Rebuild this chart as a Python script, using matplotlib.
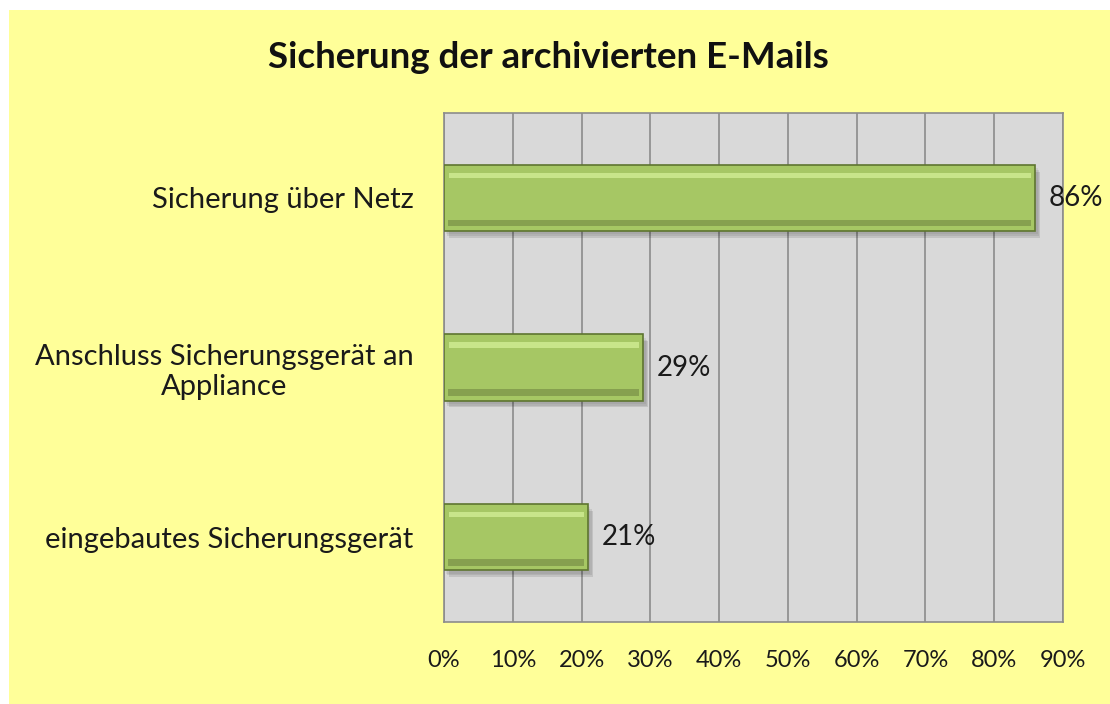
import matplotlib.pyplot as plt
from matplotlib.patches import Rectangle
import numpy as np

plt.rcParams['font.family'] = ['Lato', 'DejaVu Sans']

# Data
categories = ["Sicherung über Netz",
              "Anschluss Sicherungsgerät an\nAppliance",
              "eingebautes Sicherungsgerät"]
values = [86, 29, 21]
xticks = [0, 10, 20, 30, 40, 50, 60, 70, 80, 90]
title = "Sicherung der archivierten E-Mails"

fig = plt.figure(figsize=(11.1, 7.04), dpi=100)
fig.patch.set_facecolor('white')

# yellow chart area
bg = Rectangle((9 / 1110, 0), 1 - 9 / 1110, 1 - 10 / 704,
               transform=fig.transFigure, facecolor='#FFFF99',
               edgecolor='none', zorder=-10)
fig.add_artist(bg)

ax = fig.add_axes([444 / 1110, 1 - 622 / 704, 619 / 1110, 509 / 704])
ax.set_zorder(5)
ax.set_facecolor('#D9D9D9')

y = np.arange(len(categories))[::-1]
h = 0.39

# shadow (soft)
for k, a in enumerate([0.06, 0.08, 0.10]):
    ax.barh(y - 0.02 - 0.01 * k, values, height=h, left=0.3 + 0.2 * k,
            color='#000000', alpha=a, zorder=2, linewidth=0)
# main bar
ax.barh(y, values, height=h, color='#A6C764', edgecolor='#5E7530',
        linewidth=1.2, zorder=3)
# bevel highlight / shade
ax.barh(y + h * 0.34, np.array(values) - 1.4, height=h * 0.08, left=0.7,
        color='#C8E58A', linewidth=0, zorder=4)
ax.barh(y - h * 0.38, np.array(values) - 1.2, height=h * 0.1, left=0.6,
        color='#86A04F', linewidth=0, zorder=4)

for yi, v in zip(y, values):
    ax.text(v + 1.9, yi, f"{v}%", va='center', ha='left', fontsize=20,
            color='#1a1a1a', zorder=5, clip_on=False)

ax.set_xlim(0, 90)
ax.set_ylim(-0.5, 2.5)
ax.set_xticks(xticks)
ax.set_xticklabels([f"{t}%" for t in xticks], fontsize=17, color='#1a1a1a')
ax.set_yticks(y)
ax.set_yticklabels(categories, fontsize=21, color='#1a1a1a',
                   multialignment='center')
ax.tick_params(axis='both', length=0)
ax.tick_params(axis='x', pad=20)
ax.tick_params(axis='y', pad=22)
ax.xaxis.grid(True, color='#8C8C8C', linewidth=1.2, zorder=1)
ax.set_axisbelow(True)
for s in ax.spines.values():
    s.set_color('#8C8C8C')
    s.set_linewidth(1.2)

fig.text(548 / 1110, 1 - 58 / 704, title, ha='center', va='center',
         fontsize=26.5, fontweight='bold', color='#111111')

fig.savefig("out.png", dpi=100)
